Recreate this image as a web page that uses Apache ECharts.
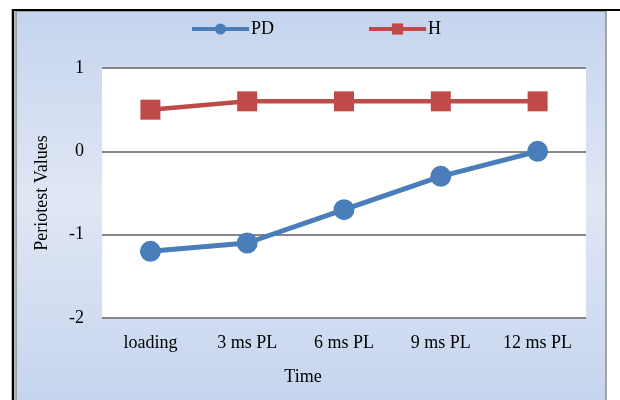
<!DOCTYPE html>
<html>
<head>
<meta charset="utf-8">
<script src="https://cdn.jsdelivr.net/npm/echarts@6/dist/echarts.min.js"></script>
<style>
html,body{margin:0;padding:0;background:#fff;}
#c{width:620px;height:400px;}
</style>
</head>
<body>
<div id="c"></div>
<script>
var categories = ['loading', '3 ms PL', '6 ms PL', '9 ms PL', '12 ms PL'];
var pdValues = [-1.2, -1.1, -0.7, -0.3, 0];
var hValues = [0.5, 0.6, 0.6, 0.6, 0.6];
var yTicks = [-2, -1, 0, 1];

var FONT = '"Liberation Serif", "Times New Roman", serif';
var chart = echarts.init(document.getElementById('c'), null, {renderer: 'canvas'});
chart.setOption({
  animation: false,
  backgroundColor: '#ffffff',
  graphic: [
    {type: 'rect', z: -10, silent: true,
     shape: {x: 16, y: 11, width: 590, height: 395},
     style: {fill: new echarts.graphic.LinearGradient(0, 0, 0, 1, [
       {offset: 0, color: '#c5d4ee'},
       {offset: 0.48, color: '#e0e7f4'},
       {offset: 1, color: '#c5d4ee'}
     ]), stroke: '#8c8c8c', lineWidth: 1.5}},
    {type: 'line', z: 10, silent: true, shape: {x1: 12, y1: 10, x2: 620, y2: 10}, style: {stroke: '#000', lineWidth: 2}},
    {type: 'line', z: 10, silent: true, shape: {x1: 13, y1: 9, x2: 13, y2: 400}, style: {stroke: '#000', lineWidth: 2.5}},
    {type: 'text', z: 10, silent: true, x: 303, y: 377,
     style: {text: 'Time', font: '18px ' + FONT, fill: '#000', textAlign: 'center', textVerticalAlign: 'middle'}}
  ],
  legend: {
    left: 190, top: 20, padding: 0,
    itemWidth: 57, itemHeight: 14, itemGap: 93,
    lineStyle: {width: 4},
    textStyle: {fontFamily: FONT, fontSize: 18, color: '#000', padding: [0, 0, 0, -3]},
    data: ['PD', 'H']
  },
  grid: {left: 102, right: 34, top: 68, bottom: 82, show: true, backgroundColor: '#ffffff', borderWidth: 0},
  xAxis: {
    type: 'category', data: categories,
    axisLine: {show: false}, axisTick: {show: false},
    axisLabel: {fontFamily: FONT, fontSize: 18, color: '#000', margin: 16}
  },
  yAxis: {
    type: 'value', min: -2, max: 1, interval: 1,
    name: 'Periotest Values', nameLocation: 'middle', nameRotate: 90, nameGap: 51,
    nameTextStyle: {fontFamily: FONT, fontSize: 18, color: '#000'},
    axisLine: {show: false}, axisTick: {show: false},
    axisLabel: {fontFamily: FONT, fontSize: 18, color: '#000', margin: 18,
      formatter: function (v) { return yTicks.indexOf(v) >= 0 ? String(v) : ''; }},
    splitLine: {show: true, lineStyle: {color: '#878787', width: 2}}
  },
  series: [
    {name: 'PD', type: 'line', data: pdValues, symbol: 'circle', symbolSize: 21,
     lineStyle: {color: '#4a7ebb', width: 5}, itemStyle: {color: '#4a7ebb'}},
    {name: 'H', type: 'line', data: hValues, symbol: 'rect', symbolSize: 20,
     lineStyle: {color: '#be4b48', width: 4.5}, itemStyle: {color: '#be4b48'}}
  ]
});
</script>
</body>
</html>
